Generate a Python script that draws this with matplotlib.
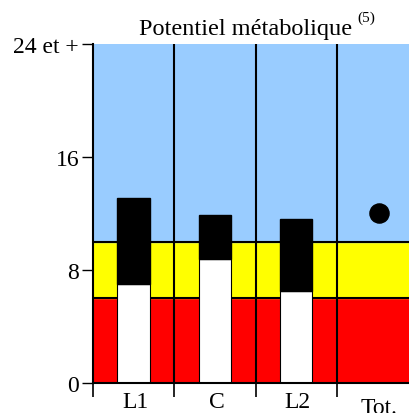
import matplotlib
matplotlib.use('Agg')
import matplotlib.pyplot as plt

categories = ['L1', 'C', 'L2', 'Tot.']
lower_vals = [7.0, 8.8, 6.5]      # white part
total_vals = [13.1, 11.9, 11.6]   # top of black part
tot_point = 12.0
bands = [(0, 6, '#ff0000'), (6, 10, '#ffff00'), (10, 24, '#99ccff')]
ytick_vals = [0, 8, 16, 24]
ytick_labels = ['0', '8', '16', '24 et +']

plt.rcParams['font.family'] = ['Liberation Serif', 'DejaVu Serif']

fig = plt.figure(figsize=(4.09, 4.14), dpi=100)
ax = fig.add_axes([0.2274, 0.0725, 0.795, 0.8188])

for lo, hi, col in bands:
    ax.axhspan(lo, hi, color=col, zorder=0)
for lo, hi, col in bands[1:]:
    ax.axhline(lo, color='black', lw=1.5, zorder=1)
for i in range(1, 4):
    ax.axvline(i, color='black', lw=1.5, zorder=1)

x = [i + 0.5 for i in range(len(lower_vals))]
ax.bar(x, lower_vals, width=0.4, color='white', edgecolor='black', lw=0.8, zorder=2)
ax.bar(x, [t - l for t, l in zip(total_vals, lower_vals)], bottom=lower_vals,
       width=0.4, color='black', edgecolor='black', zorder=2)
ax.scatter([3.52], [tot_point], s=190, color='black', zorder=3)

ax.set_xlim(0, 4)
ax.set_ylim(0, 24)
ax.set_yticks(ytick_vals)
ax.set_yticklabels(ytick_labels, fontsize=17)
ax.tick_params(axis='y', length=8, width=1, pad=2)
ax.set_xticks([0, 1, 2, 3])
ax.set_xticklabels([])
ax.tick_params(axis='x', length=10, width=1.2, direction='out')
for s in ['top', 'right']:
    ax.spines[s].set_visible(False)
ax.spines['left'].set_linewidth(1.5)
ax.spines['bottom'].set_linewidth(1.5)

label_y = [-0.55, -0.55, -0.55, -1.0]
for i, (lab, ly) in enumerate(zip(categories, label_y)):
    ax.text(i + 0.52, ly, lab, ha='center', va='top', fontsize=17, clip_on=False)

fig.text(0.861, 0.9155, 'Potentiel métabolique', ha='right', va='baseline', fontsize=17.5)
fig.text(0.874, 0.947, '(5)', ha='left', va='baseline', fontsize=11)

fig.savefig('out.png', dpi=100)
